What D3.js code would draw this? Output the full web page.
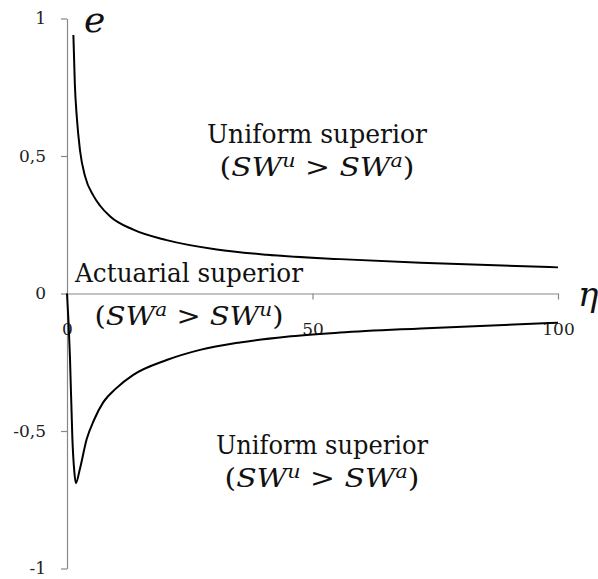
<!doctype html>
<html>
<head>
	<meta charset="UTF-8">
	<title>e vs eta</title>
	<style>
		body { margin: 0; background: #fff; }
		#container { font-size: 0; }
		svg text { font-family: "DejaVu Serif", serif; }
	</style>
</head>
<body>
<div id="container"></div>
<script src="https://cdn.jsdelivr.net/npm/d3@7/dist/d3.min.js"></script>
<script>
	var w = 598;
	var h = 579;

	// upper curve (uniform superior above 0)
	var etaUpper = [1.3, 1.6, 2.0, 2.65, 3.7, 5.4, 6.7, 8.8, 13.5, 20.3, 30.5, 40.7, 55.6, 72, 100];
	var eUpper = [0.94, 0.76, 0.64, 0.52, 0.425, 0.355, 0.32, 0.28, 0.232, 0.194, 0.16, 0.141, 0.125, 0.112, 0.095];

	// lower curve
	var etaLower = [0, 0.3, 0.6, 1.1, 1.5, 1.8, 2.6, 4.0, 5.5, 7.4, 10, 13.5, 20.3, 27.1, 35.2, 44.7, 55.6, 72, 100];
	var eLower = [0, -0.1, -0.23, -0.53, -0.65, -0.69, -0.64, -0.53, -0.46, -0.395, -0.345, -0.296, -0.242, -0.205, -0.178, -0.157, -0.142, -0.127, -0.106];

	var xTicks = [0, 50, 100];
	var xTickLabels = ["0", "50", "100"];
	var yTicks = [-1, -0.5, 0, 0.5, 1];
	var yTickLabels = ["-1", "-0,5", "0", "0,5", "1"];

	var xScale = d3.scaleLinear().domain([0, 100]).range([67, 558]);
	var yScale = d3.scaleLinear().domain([-1, 1]).range([568.5, 18.5]);

	var svg = d3.select("#container")
			.append("svg")
			.attr("width", w)
			.attr("height", h);

	// y axis
	var yAxis = d3.axisLeft(yScale)
			.tickValues(yTicks)
			.tickSize(6)
			.tickSizeOuter(0)
			.tickPadding(15)
			.tickFormat(function (d, i) { return yTickLabels[i]; });
	var gy = svg.append("g")
			.attr("transform", "translate(" + xScale(0) + ",0)")
			.call(yAxis);

	// x axis at e = 0
	var xAxis = d3.axisBottom(xScale)
			.tickValues(xTicks)
			.tickSize(6)
			.tickSizeOuter(0)
			.tickFormat(function (d, i) { return xTickLabels[i]; });
	var gx = svg.append("g")
			.attr("transform", "translate(0," + yScale(0) + ")")
			.call(xAxis);

	[gx, gy].forEach(function (g) {
		g.attr("font-family", null);
		g.selectAll(".domain, .tick line").attr("stroke", "#888").attr("stroke-width", 1.2);
		g.selectAll("text")
				.attr("fill", "#222")
				.attr("font-size", 17);
	});
	gx.selectAll("text").attr("y", 41).attr("dy", 0);

	var line = d3.line()
			.x(function (d) { return xScale(d[0]); })
			.y(function (d) { return yScale(d[1]); })
			.curve(d3.curveMonotoneX);

	svg.append("path")
			.datum(d3.zip(etaUpper, eUpper))
			.attr("d", line)
			.attr("fill", "none")
			.attr("stroke", "#000")
			.attr("stroke-width", 2);

	svg.append("path")
			.datum(d3.zip(etaLower, eLower))
			.attr("d", line)
			.attr("fill", "none")
			.attr("stroke", "#000")
			.attr("stroke-width", 2);

	// axis names
	svg.append("text")
			.attr("x", 84).attr("y", 32)
			.attr("font-style", "italic")
			.attr("font-size", 36)
			.attr("fill", "#111")
			.text("e");
	svg.append("text")
			.attr("x", 578).attr("y", 306)
			.attr("font-style", "italic")
			.attr("font-size", 34)
			.attr("fill", "#111")
			.text("η");

	// region labels
	function label(cx, y1, y2, title, a, b, titleW, mathW) {
		svg.append("text")
				.attr("x", cx).attr("y", y1)
				.attr("text-anchor", "middle")
				.attr("font-size", 26)
				.attr("fill", "#111")
				.attr("textLength", titleW)
				.attr("lengthAdjust", "spacingAndGlyphs")
				.text(title);
		var t = svg.append("text")
				.attr("x", cx).attr("y", y2)
				.attr("text-anchor", "middle")
				.attr("font-size", 26)
				.attr("fill", "#111")
				.attr("textLength", mathW)
				.attr("lengthAdjust", "spacingAndGlyphs");
		t.append("tspan").text("(");
		t.append("tspan").attr("font-style", "italic").text("SW");
		t.append("tspan").attr("font-style", "italic").attr("font-size", 18).attr("dy", -9).text(a);
		t.append("tspan").attr("dy", 9).text(" > ");
		t.append("tspan").attr("font-style", "italic").text("SW");
		t.append("tspan").attr("font-style", "italic").attr("font-size", 18).attr("dy", -9).text(b);
		t.append("tspan").attr("dy", 9).text(")");
	}

	label(317, 143, 176, "Uniform superior", "u", "a", 220, 195);
	label(189, 282, 325, "Actuarial superior", "a", "u", 228, 189);
	label(322, 454, 487, "Uniform superior", "u", "a", 212, 195);
</script>
</body>
</html>
